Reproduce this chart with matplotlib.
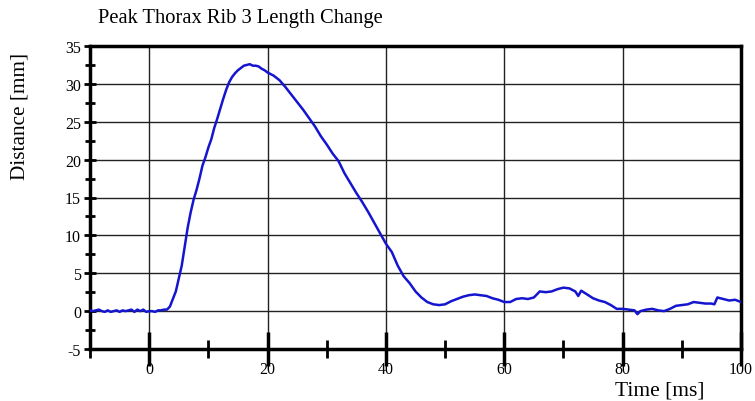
import matplotlib
matplotlib.use("Agg")
import matplotlib.pyplot as plt
from matplotlib.ticker import MultipleLocator

title = "Peak Thorax Rib 3 Length Change"
xlabel = "Time [ms]"
ylabel = "Distance [mm]"

time_ms = [-10, -9.5, -9, -8.5, -8, -7.5, -7, -6.5, -6, -5.5, -5, -4.5, -4, -3.5, -3, -2.5,
           -2, -1.5, -1, -0.5, 0, 0.5, 1, 1.5, 2, 2.5, 3, 3.5, 4, 4.5, 5, 5.5, 6, 6.5, 7,
           7.5, 8, 8.5, 9, 9.5, 10, 10.5, 11, 11.5, 12, 12.5, 13, 13.5, 14, 14.5, 15, 15.5,
           16, 16.5, 17, 17.5, 18, 18.5, 19, 19.5, 20, 21, 22, 23, 24, 25, 26, 27, 28, 29,
           30, 31, 32, 33, 34, 35, 36, 37, 38, 39, 40, 41, 42, 43, 44, 45, 46, 47, 48, 49,
           50, 51, 52, 53, 54, 55, 56, 57, 58, 59, 60, 61, 62, 63, 64, 65, 66, 67, 68, 69,
           70, 71, 72, 72.5, 73, 74, 75, 76, 77, 78, 79, 80, 81, 82, 82.5, 83, 84, 85, 86,
           87, 88, 89, 90, 91, 92, 93, 94, 95, 95.5, 96, 97, 98, 99, 100]
distance_mm = [0.1, 0.0, 0.1, 0.2, 0.0, -0.1, 0.1, -0.1, 0.0, 0.1, -0.1, 0.1, 0.0, 0.1, 0.2,
               -0.1, 0.2, 0.0, 0.2, -0.1, 0.0, 0.0, -0.1, 0.1, 0.1, 0.2, 0.2, 0.6, 1.6, 2.6,
               4.3, 6.0, 8.5, 11.0, 13.0, 14.7, 16.0, 17.5, 19.2, 20.3, 21.6, 22.7, 24.2, 25.4,
               26.7, 28.0, 29.2, 30.2, 30.9, 31.4, 31.8, 32.1, 32.4, 32.5, 32.6, 32.4, 32.4,
               32.3, 32.0, 31.8, 31.5, 31.1, 30.5, 29.6, 28.6, 27.6, 26.6, 25.5, 24.4, 23.1,
               22.0, 20.8, 19.8, 18.2, 16.9, 15.6, 14.4, 13.1, 11.7, 10.3, 8.9, 7.8, 6.0, 4.6,
               3.7, 2.6, 1.8, 1.2, 0.9, 0.8, 0.9, 1.3, 1.6, 1.9, 2.1, 2.2, 2.1, 2.0, 1.7, 1.5,
               1.2, 1.2, 1.6, 1.7, 1.6, 1.8, 2.6, 2.5, 2.6, 2.9, 3.1, 3.0, 2.6, 2.0, 2.7, 2.2,
               1.7, 1.4, 1.2, 0.8, 0.3, 0.3, 0.2, 0.1, -0.4, 0.0, 0.2, 0.3, 0.1, 0.0, 0.3, 0.7,
               0.8, 0.9, 1.2, 1.1, 1.0, 1.0, 0.9, 1.8, 1.6, 1.4, 1.5, 1.2]

plt.rcParams['font.family'] = ['Liberation Serif', 'DejaVu Serif']
plt.rcParams['axes.unicode_minus'] = False

fig = plt.figure(figsize=(7.55, 4.02), dpi=100)
ax = fig.add_axes([90/755, 1-350/402, (741-90)/755, (350-47)/402])

ax.plot(time_ms, distance_mm, color='#1515d0', lw=1.8, zorder=3)

ax.set_xlim(-10, 100)
ax.set_ylim(-5, 35)
ax.xaxis.set_major_locator(MultipleLocator(20))
ax.xaxis.set_minor_locator(MultipleLocator(10))
ax.yaxis.set_major_locator(MultipleLocator(5))
ax.yaxis.set_minor_locator(MultipleLocator(2.5))

ax.grid(True, which='major', color='#222222', lw=1.0, zorder=1)
for s in ax.spines.values():
    s.set_linewidth(2.5)
    s.set_color('black')

ax.tick_params(axis='x', which='major', direction='inout', length=24, width=2.5,
               labelsize=11.5, pad=-3)
ax.tick_params(axis='x', which='minor', direction='inout', length=13, width=2)
ax.tick_params(axis='y', which='major', direction='inout', length=9, width=2,
               labelsize=11.5, pad=2)
ax.tick_params(axis='y', which='minor', direction='inout', length=7, width=2)

fig.text(98/755, 1-19/402, title, fontsize=14.8, ha='left', va='center')
fig.text(20/755, 1-116/402, ylabel, fontsize=15.3, rotation=90, ha='center', va='center')
fig.text(660/755, 1-391/402, xlabel, fontsize=15.5, ha='center', va='center')

fig.savefig("out.png", dpi=100)
